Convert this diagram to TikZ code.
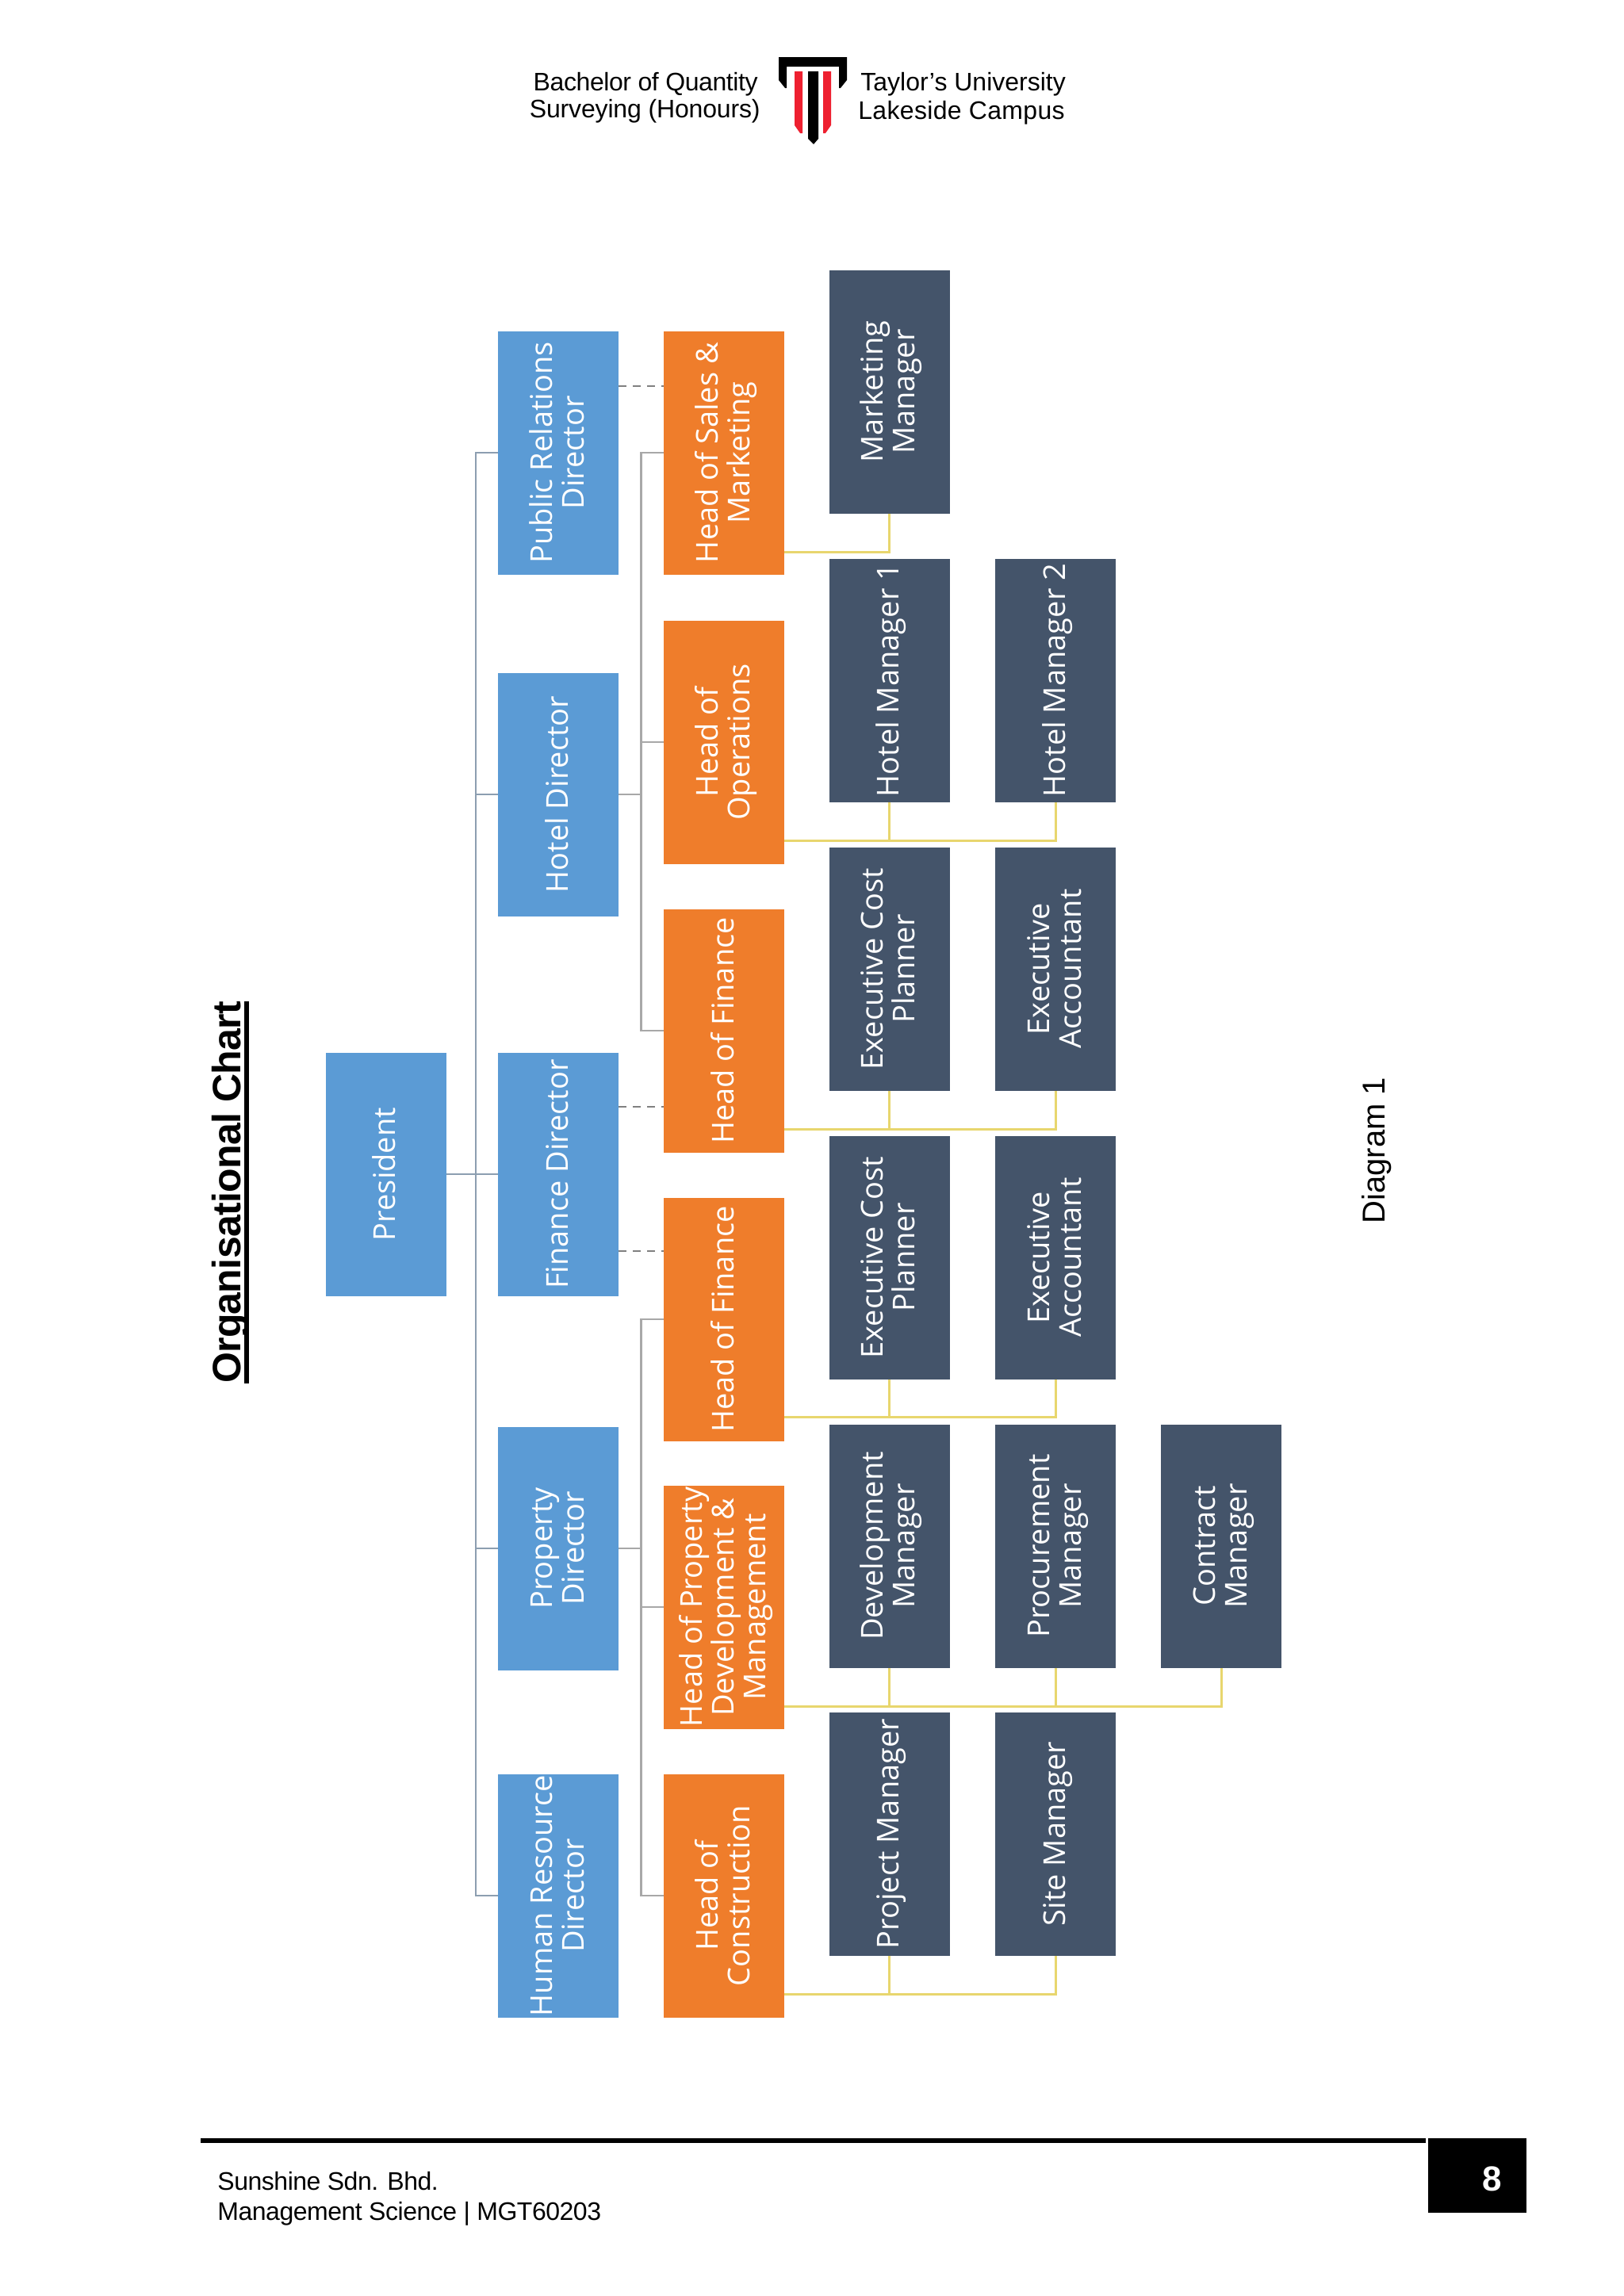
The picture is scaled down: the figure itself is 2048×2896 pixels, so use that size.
\documentclass[tikz,border=0pt]{standalone}
\usepackage{fontspec}
\usepackage{graphicx}
\setmainfont{Liberation Sans}
\newfontfamily\boxfont{Open Sans}
\definecolor{dirblue}{HTML}{5B9BD5}
\definecolor{headorange}{HTML}{EF7D2B}
\definecolor{mgrslate}{HTML}{44546A}
\definecolor{spinegrey}{HTML}{8C9EB0}
\definecolor{tickgrey}{HTML}{A8A8A8}
\definecolor{linkyellow}{HTML}{E8D66E}
\definecolor{logored}{HTML}{EE2030}
\newcommand{\vlabel}[1]{\hspace*{4pt}\rotatebox{90}{\begin{tabular}{@{}c@{}}#1\end{tabular}}}
\tikzset{
  x=0.5pt,y=-0.5pt,
  orgbox/.style={rectangle,inner sep=0pt,minimum width=76pt,minimum height=153.5pt,text=white,
     font=\boxfont\fontsize{19}{20}\selectfont},
  dirbox/.style={orgbox,fill=dirblue},
  headbox/.style={orgbox,fill=headorange},
  mgrbox/.style={orgbox,fill=mgrslate},
  mainline/.style={draw=spinegrey,line width=1.3pt},
  tickline/.style={draw=tickgrey,line width=1.2pt},
  dashline/.style={draw=gray,line width=1.2pt,dash pattern=on 5pt off 4pt},
  linkline/.style={draw=linkyellow,line width=1.5pt},
  plaintext/.style={inner sep=0pt,text=black,font=\fontsize{16}{16}\selectfont},
}
\begin{document}
\begin{tikzpicture}
\useasboundingbox (0,0) rectangle (2048,2896);
\fill[white] (0,0) rectangle (2048,2896);

% header
\node[plaintext,anchor=base east] (hdrA) at (956,114) {\addfontfeature{LetterSpace=-1.3}Bachelor of Quantity};
\node[plaintext,anchor=base east] (hdrB) at (959,148) {\addfontfeature{LetterSpace=-0.5}Surveying (Honours)};
\node[plaintext,anchor=base west] (hdrC) at (1085,114) {Taylor’s University};
\node[plaintext,anchor=base west] (hdrD) at (1082,150) {\addfontfeature{LetterSpace=1}Lakeside Campus};
% logo
\fill[black] (982,72)--(1068,72)--(1068,101)--(1060,111)--(1058,111)--(1058,84)--(992,84)--(992,111)--(990,111)--(982,101)--cycle;
\fill[logored] (1002,90)--(1012,90)--(1012,168)--(1009,168)--(1002,158)--cycle;
\fill[logored] (1038,90)--(1048,90)--(1048,158)--(1041,168)--(1038,168)--cycle;
\fill[black] (1019,90)--(1032,90)--(1032,175)--(1026,182)--(1019,175)--cycle;

% title and caption
\node[inner sep=0pt,anchor=base,rotate=90,font=\fontsize{25}{25}\selectfont\bfseries] (title) at (303,1504) {\rlap{\rule[-5.25pt]{241pt}{2.75pt}}\addfontfeature{LetterSpace=-1.4}Organisational Chart};
\node[inner sep=0pt,anchor=base,rotate=90,font=\fontsize{20}{20}\selectfont] (caption) at (1746,1451) {Diagram 1};

% president and directors
\node[dirbox] (pres) at (486.5,1481) {\vlabel{President}};
\node[dirbox] (prdir) at (704,571) {\vlabel{Public Relations\\Director}};
\node[dirbox] (hoteldir) at (704,1002) {\vlabel{Hotel Director}};
\node[dirbox] (findir) at (704,1481) {\vlabel{Finance Director}};
\node[dirbox] (propdir) at (704,1953) {\vlabel{Property\\Director}};
\node[dirbox] (hrdir) at (704,2391) {\vlabel{Human Resource\\Director}};

% heads
\node[headbox] (hsales) at (913,571) {\vlabel{Head of Sales \&\\Marketing}};
\node[headbox] (hops) at (913,936) {\vlabel{Head of\\Operations}};
\node[headbox] (hfinA) at (913,1300) {\vlabel{Head of Finance}};
\node[headbox] (hfinB) at (913,1664) {\vlabel{Head of Finance}};
\node[headbox] (hprop) at (913,2027) {\vlabel{Head of Property\\Development \&\\Management}};
\node[headbox] (hcons) at (913,2391) {\vlabel{Head of\\Construction}};

% managers
\node[mgrbox] (mkt) at (1121.5,494) {\vlabel{Marketing\\Manager}};
\node[mgrbox] (hmA) at (1121.5,858) {\vlabel{Hotel Manager 1}};
\node[mgrbox] (hmB) at (1331,858) {\vlabel{Hotel Manager 2}};
\node[mgrbox] (ecA) at (1121.5,1222) {\vlabel{Executive Cost\\Planner}};
\node[mgrbox] (eaA) at (1331,1222) {\vlabel{Executive\\Accountant}};
\node[mgrbox] (ecB) at (1121.5,1586) {\vlabel{Executive Cost\\Planner}};
\node[mgrbox] (eaB) at (1331,1586) {\vlabel{Executive\\Accountant}};
\node[mgrbox] (dev) at (1121.5,1950) {\vlabel{Development\\Manager}};
\node[mgrbox] (proc) at (1331,1950) {\vlabel{Procurement\\Manager}};
\node[mgrbox] (con) at (1540,1950) {\vlabel{Contract\\Manager}};
\node[mgrbox] (pm) at (1121.5,2313) {\vlabel{Project Manager}};
\node[mgrbox] (sm) at (1331,2313) {\vlabel{Site Manager}};

% spine from the president to the directors
\coordinate (spx) at (600,0);
\draw[mainline] (pres.east) -- (findir.west);
\draw[mainline] (prdir.west) -- (prdir.west -| spx) -- (hrdir.west -| spx) -- (hrdir.west);
\draw[mainline] (hoteldir.west) -- (hoteldir.west -| spx);
\draw[mainline] (propdir.west) -- (propdir.west -| spx);

% second-level spines
\coordinate (hsx) at (808.5,0);
\draw[tickline] (hsales.west) -- (hsales.west -| hsx) -- (hfinA.west -| hsx) -- (hfinA.west);
\draw[tickline] (hops.west) -- (hops.west -| hsx);
\draw[tickline] (hoteldir.east) -- (hoteldir.east -| hsx);
\draw[tickline] (hfinB.west) -- (hfinB.west -| hsx) -- (hcons.west -| hsx) -- (hcons.west);
\draw[tickline] (hprop.west) -- (hprop.west -| hsx);
\draw[tickline] (propdir.east) -- (propdir.east -| hsx);

% dashed links
\coordinate (dashA) at (0,487);
\coordinate (dashB) at (0,1396);
\coordinate (dashC) at (0,1578);
\draw[dashline] (prdir.east |- dashA) -- (hsales.west |- dashA);
\draw[dashline] (findir.east |- dashB) -- (hfinA.west |- dashB);
\draw[dashline] (findir.east |- dashC) -- (hfinB.west |- dashC);

% links from heads to managers
\coordinate (yA) at (0,696);
\coordinate (yB) at (0,1060);
\coordinate (yC) at (0,1424);
\coordinate (yD) at (0,1787);
\coordinate (yE) at (0,2152);
\coordinate (yF) at (0,2515);
\draw[linkline] (hsales.east |- yA) -- (mkt.south |- yA) -- (mkt.south);
\draw[linkline] (hops.east |- yB) -- (hmB.south |- yB) -- (hmB.south);
\draw[linkline] (hmA.south) -- (hmA.south |- yB);
\draw[linkline] (hfinA.east |- yC) -- (eaA.south |- yC) -- (eaA.south);
\draw[linkline] (ecA.south) -- (ecA.south |- yC);
\draw[linkline] (hfinB.east |- yD) -- (eaB.south |- yD) -- (eaB.south);
\draw[linkline] (ecB.south) -- (ecB.south |- yD);
\draw[linkline] (hprop.east |- yE) -- (con.south |- yE) -- (con.south);
\draw[linkline] (dev.south) -- (dev.south |- yE);
\draw[linkline] (proc.south) -- (proc.south |- yE);
\draw[linkline] (hcons.east |- yF) -- (sm.south |- yF) -- (sm.south);
\draw[linkline] (pm.south) -- (pm.south |- yF);

% footer
\fill[black] (253,2697) rectangle (1798,2703);
\fill[black] (1801,2697) rectangle (1925,2791);
\node[inner sep=0pt,text=white,font=\fontsize{22}{22}\selectfont\bfseries,anchor=base] (pageno) at (1882,2763) {8};
\node[plaintext,anchor=base west] (ftA) at (274,2762) {\addfontfeature{LetterSpace=-1.5}Sunshine Sdn. Bhd.};
\node[plaintext,anchor=base west] (ftB) at (274,2800) {\addfontfeature{LetterSpace=-1.5}Management Science | MGT60203};
\end{tikzpicture}
\end{document}
